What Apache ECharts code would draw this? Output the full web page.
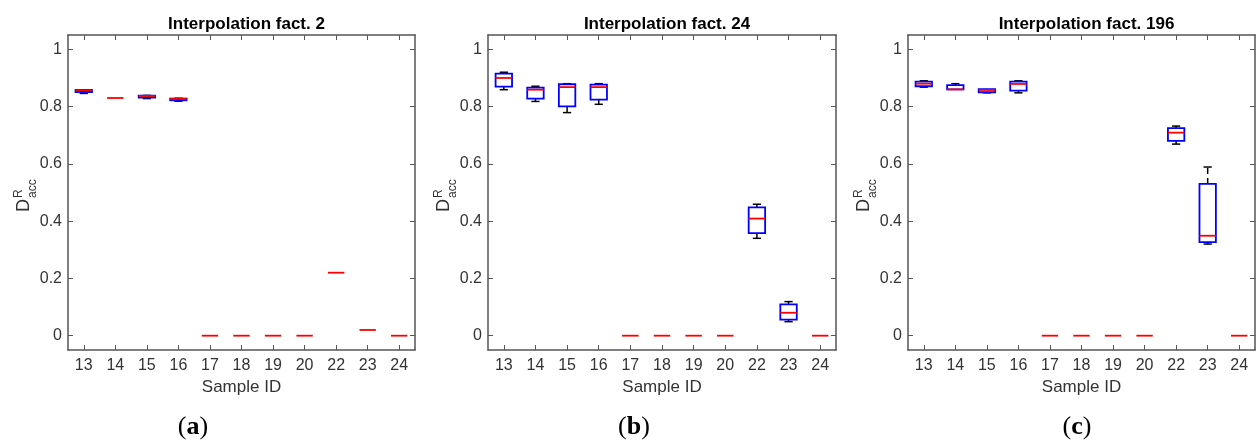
<!DOCTYPE html>
<html>
<head>
<meta charset="utf-8">
<script src="https://cdn.jsdelivr.net/npm/echarts@6/dist/echarts.min.js"></script>
<style>html,body{margin:0;padding:0;background:#fff}#c{width:1256px;height:441px}</style>
</head>
<body>
<div id="c"></div>
<script>
const categories = ['13','14','15','16','17','18','19','20','22','23','24'];
const yTicks = [0, 0.2, 0.4, 0.6, 0.8, 1];
const titles = ['Interpolation fact. 2', 'Interpolation fact. 24', 'Interpolation fact. 196'];
const captions = ['a', 'b', 'c'];
const xAxisTitle = 'Sample ID';
// each entry: [min, q1, median, q3, max]
const statsA = [
  [0.846, 0.851, 0.857, 0.858, 0.858],
  [0.83, 0.83, 0.83, 0.83, 0.83],
  [0.828, 0.831, 0.837, 0.838, 0.839],
  [0.819, 0.822, 0.827, 0.828, 0.829],
  [0, 0, 0, 0, 0],
  [0, 0, 0, 0, 0],
  [0, 0, 0, 0, 0],
  [0, 0, 0, 0, 0],
  [0.22, 0.22, 0.22, 0.22, 0.22],
  [0.02, 0.02, 0.02, 0.02, 0.02],
  [0, 0, 0, 0, 0]
];
const statsB = [
  [0.859, 0.870, 0.900, 0.915, 0.920],
  [0.818, 0.828, 0.859, 0.866, 0.871],
  [0.779, 0.801, 0.868, 0.878, 0.880],
  [0.808, 0.824, 0.868, 0.877, 0.880],
  [0, 0, 0, 0, 0],
  [0, 0, 0, 0, 0],
  [0, 0, 0, 0, 0],
  [0, 0, 0, 0, 0],
  [0.340, 0.358, 0.409, 0.448, 0.459],
  [0.049, 0.056, 0.080, 0.109, 0.119],
  [0, 0, 0, 0, 0]
];
const statsC = [
  [0.868, 0.871, 0.880, 0.887, 0.890],
  [0.860, 0.860, 0.860, 0.875, 0.880],
  [0.848, 0.850, 0.858, 0.861, 0.861],
  [0.848, 0.856, 0.879, 0.887, 0.890],
  [0, 0, 0, 0, 0],
  [0, 0, 0, 0, 0],
  [0, 0, 0, 0, 0],
  [0, 0, 0, 0, 0],
  [0.669, 0.680, 0.709, 0.725, 0.732],
  [0.320, 0.327, 0.349, 0.530, 0.589],
  [0, 0, 0, 0, 0]
];
const panels = [statsA, statsB, statsC];

const gridLefts = [68, 488, 908];
const gridWidths = [347, 348, 347];
const captionX = [193, 634, 1077];
const axisColor = '#555';
const textColor = '#333';
const font = 'Liberation Sans, Arial, sans-serif';

function renderBox(params, api) {
  const x = api.value(0);
  const vmin = api.value(1), q1 = api.value(2), med = api.value(3), q3 = api.value(4), vmax = api.value(5);
  const pMin = api.coord([x, vmin]);
  const pQ1 = api.coord([x, q1]);
  const pMed = api.coord([x, med]);
  const pQ3 = api.coord([x, q3]);
  const pMax = api.coord([x, vmax]);
  const cw = api.size([1, 0])[0];
  const bw = cw * 0.52;
  const cap = bw * 0.5;
  const cx = pMed[0];
  const children = [];
  const black = {stroke: '#000', lineWidth: 1.5};
  if (vmax > q3) {
    children.push({type: 'line', shape: {x1: cx, y1: pQ3[1], x2: cx, y2: pMax[1]}, style: Object.assign({lineDash: [6, 4]}, black)});
    children.push({type: 'line', shape: {x1: cx - cap / 2, y1: pMax[1], x2: cx + cap / 2, y2: pMax[1]}, style: black});
  }
  if (vmin < q1) {
    children.push({type: 'line', shape: {x1: cx, y1: pQ1[1], x2: cx, y2: pMin[1]}, style: Object.assign({lineDash: [6, 4]}, black)});
    children.push({type: 'line', shape: {x1: cx - cap / 2, y1: pMin[1], x2: cx + cap / 2, y2: pMin[1]}, style: black});
  }
  if (q3 > q1) {
    children.push({type: 'rect', shape: {x: cx - bw / 2, y: pQ3[1], width: bw, height: pQ1[1] - pQ3[1]},
      style: {fill: 'none', stroke: '#0000ff', lineWidth: 1.8}});
  }
  children.push({type: 'line', shape: {x1: cx - bw / 2, y1: pMed[1], x2: cx + bw / 2, y2: pMed[1]},
    style: {stroke: '#ff0000', lineWidth: 1.8}});
  return {type: 'group', children: children};
}

const grid = [], xAxis = [], yAxis = [], series = [], title = [], graphic = [];
panels.forEach((stats, g) => {
  grid.push({left: gridLefts[g], width: gridWidths[g], top: 35, height: 315});
  title.push({
    text: titles[g], left: gridLefts[g] + gridWidths[g] / 2, top: 11, textAlign: 'center',
    textStyle: {fontFamily: font, fontSize: 17, fontWeight: 'bold', color: '#000'}
  });
  xAxis.push({
    type: 'category', gridIndex: g, data: categories, position: 'bottom', boundaryGap: true,
    name: xAxisTitle, nameLocation: 'middle', nameGap: 27,
    nameTextStyle: {fontFamily: font, fontSize: 17, color: textColor},
    axisLine: {show: true, onZero: false, lineStyle: {color: axisColor, width: 1.5}},
    axisTick: {show: true, inside: true, alignWithLabel: true, length: 5, interval: 0, lineStyle: {color: axisColor}},
    axisLabel: {fontFamily: font, fontSize: 16, color: textColor, margin: 8, interval: 0},
    splitLine: {show: false}
  });
  xAxis.push({
    type: 'category', gridIndex: g, data: categories, position: 'top', boundaryGap: true,
    axisLine: {show: true, onZero: false, lineStyle: {color: axisColor, width: 1.5}},
    axisTick: {show: true, inside: true, alignWithLabel: true, length: 5, interval: 0, lineStyle: {color: axisColor}},
    axisLabel: {show: false}, splitLine: {show: false}
  });
  yAxis.push({
    type: 'value', gridIndex: g, min: -0.05, max: 1.05, position: 'left',
    axisLine: {show: true, onZero: false, lineStyle: {color: axisColor, width: 1.5}},
    axisTick: {show: true, inside: true, length: 5, customValues: yTicks, lineStyle: {color: axisColor}},
    axisLabel: {fontFamily: font, fontSize: 16, color: textColor, margin: 6, customValues: yTicks},
    splitLine: {show: false}
  });
  yAxis.push({
    type: 'value', gridIndex: g, min: -0.05, max: 1.05, position: 'right',
    axisLine: {show: true, onZero: false, lineStyle: {color: axisColor, width: 1.5}},
    axisTick: {show: true, inside: true, length: 5, customValues: yTicks, lineStyle: {color: axisColor}},
    axisLabel: {show: false}, splitLine: {show: false}
  });
  series.push({
    type: 'custom', xAxisIndex: 2 * g, yAxisIndex: 2 * g,
    renderItem: renderBox,
    encode: {x: 0, y: [1, 2, 3, 4, 5]},
    data: stats.map((s, i) => [i].concat(s)),
    silent: true
  });
  // y-axis title D^R_acc
  graphic.push({
    type: 'group', x: gridLefts[g] - 37, y: 199, rotation: Math.PI / 2,
    children: [
      {type: 'text', x: 0, y: -6.5, style: {text: 'D', fontFamily: font, fontSize: 18, fill: textColor, align: 'right', verticalAlign: 'middle'}},
      {type: 'text', x: 1, y: -12, style: {text: 'R', fontFamily: font, fontSize: 12, fill: textColor, align: 'left', verticalAlign: 'middle'}},
      {type: 'text', x: 1, y: 2, style: {text: 'acc', fontFamily: font, fontSize: 12, fill: textColor, align: 'left', verticalAlign: 'middle'}}
    ]
  });
  graphic.push({
    type: 'text', x: captionX[g], y: 427,
    style: {
      text: '{p|(}{b|' + captions[g] + '}{p|)}',
      align: 'center', verticalAlign: 'middle',
      rich: {
        p: {fontFamily: 'Liberation Serif, DejaVu Serif, serif', fontSize: 26, fill: '#000'},
        b: {fontFamily: 'Liberation Serif, DejaVu Serif, serif', fontSize: 26, fontWeight: 'bold', fill: '#000'}
      }
    }
  });
});

const chart = echarts.init(document.getElementById('c'), null, {renderer: 'canvas'});
chart.setOption({
  backgroundColor: '#fff',
  animation: false,
  title: title, grid: grid, xAxis: xAxis, yAxis: yAxis, series: series, graphic: graphic
});
</script>
</body>
</html>
